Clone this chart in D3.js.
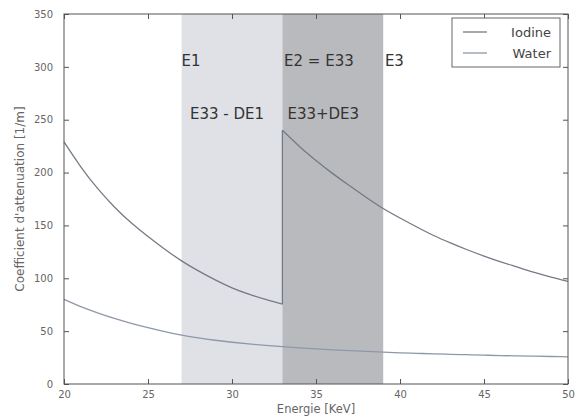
<!DOCTYPE html>
<html>
<head>
<meta charset="utf-8">
<script src="https://cdn.jsdelivr.net/npm/d3@7"></script>
<style>
  body { margin: 0; background: #fff; }
  svg { font-family: "DejaVu Sans", sans-serif; }
</style>
</head>
<body>
<svg width="578" height="416"></svg>
<script>
// energies in keV
var energyLow = [20, 21, 22, 23, 24, 25, 26, 27, 28, 29, 30, 31, 32, 33];
var energyHigh = [33, 34, 35, 36, 37, 38, 39, 40, 41, 42, 43, 44, 45, 46, 47, 48, 49, 50];
var energyAll = [20, 21, 22, 23, 24, 25, 26, 27, 28, 29, 30, 31, 32, 33, 34, 35, 36, 37, 38, 39, 40, 41, 42, 43, 44, 45, 46, 47, 48, 49, 50];

// attenuation [1/m]
var iodineLow = [229, 205.5, 185, 167.5, 152.5, 139.5, 127.5, 116.5, 107, 98.5, 91, 85, 80, 75.5];
var iodineHigh = [240, 225, 211.5, 199, 187.5, 176.5, 166, 157, 148.5, 140.5, 133.5, 127, 121, 115.5, 110.5, 105.5, 101, 97];
var water = [80, 73.2, 67.3, 62, 57.4, 53.3, 49.6, 46.3, 43.6, 41.4, 39.5, 37.9, 36.5, 35.3, 34.2, 33.2, 32.3, 31.5, 30.8, 30.1, 29.5, 29, 28.5, 28.1, 27.7, 27.3, 26.9, 26.6, 26.3, 26, 25.7];

// spectral windows
var bandEdges = [27, 33, 39];
var bandColors = ["#e0e1e6", "#b9babd"];

var xTicks = [20, 25, 30, 35, 40, 45, 50];
var yTicks = [0, 50, 100, 150, 200, 250, 300, 350];

var annotations = [
  {text: "E1", x: 27, y: 306},
  {text: "E2 = E33", x: 33.1, y: 306},
  {text: "E3", x: 39.1, y: 306},
  {text: "E33 - DE1", x: 27.5, y: 256},
  {text: "E33+DE3", x: 33.3, y: 256}
];

var legendItems = [
  {name: "Iodine", color: "#747a86"},
  {name: "Water", color: "#8d98aa"}
];

var svg = d3.select("svg"),
  margin = {top: 14, right: 10, bottom: 32, left: 64},
  width = 568 - margin.left,
  height = 384 - margin.top;

var x = d3.scaleLinear().domain([20, 50]).range([0, width]),
  y = d3.scaleLinear().domain([0, 350]).range([height, 0]);

var g = svg.append("g")
  .attr("transform", "translate(" + margin.left + "," + margin.top + ")");

// bands
g.selectAll(".band")
  .data(bandColors)
  .enter().append("rect")
  .attr("class", "band")
  .attr("x", function(d, i) { return x(bandEdges[i]); })
  .attr("width", function(d, i) { return x(bandEdges[i + 1]) - x(bandEdges[i]); })
  .attr("y", 0)
  .attr("height", height)
  .attr("fill", function(d) { return d; });

var line = d3.line()
  .x(function(d) { return x(d[0]); })
  .y(function(d) { return y(d[1]); })
  .curve(d3.curveNatural);

var iodinePts = energyLow.map(function(e, i) { return [e, iodineLow[i]]; });
var iodinePts2 = energyHigh.map(function(e, i) { return [e, iodineHigh[i]]; });

g.append("path")
  .attr("d", line(iodinePts))
  .attr("fill", "none").attr("stroke", legendItems[0].color).attr("stroke-width", 1.3);
// K-edge jump
g.append("path")
  .attr("d", d3.line()([[x(33), y(iodineLow[iodineLow.length - 1])], [x(33), y(iodineHigh[0])]]))
  .attr("fill", "none").attr("stroke", legendItems[0].color).attr("stroke-width", 1.3);
g.append("path")
  .attr("d", line(iodinePts2))
  .attr("fill", "none").attr("stroke", legendItems[0].color).attr("stroke-width", 1.3);

g.append("path")
  .attr("d", line(energyAll.map(function(e, i) { return [e, water[i]]; })))
  .attr("fill", "none").attr("stroke", legendItems[1].color).attr("stroke-width", 1.3);

// annotations
g.selectAll(".ann")
  .data(annotations)
  .enter().append("text")
  .attr("class", "ann")
  .attr("x", function(d) { return x(d.x); })
  .attr("y", function(d) { return y(d.y); })
  .attr("dy", "0.35em")
  .attr("fill", "#333")
  .style("font-size", "15px")
  .text(function(d) { return d.text; });

// axes: inside ticks on all sides
var tickColor = "#555";
g.append("g")
  .attr("transform", "translate(0," + height + ")")
  .call(d3.axisBottom(x).tickValues(xTicks).tickSize(-5).tickPadding(7))
  .call(function(a) { a.select(".domain").remove(); });
g.append("g")
  .call(d3.axisTop(x).tickValues(xTicks).tickSize(-5).tickFormat(""))
  .call(function(a) { a.select(".domain").remove(); });
g.append("g")
  .call(d3.axisLeft(y).tickValues(yTicks).tickSize(-5).tickPadding(11))
  .call(function(a) { a.select(".domain").remove(); });
g.append("g")
  .attr("transform", "translate(" + width + ",0)")
  .call(d3.axisRight(y).tickValues(yTicks).tickSize(-5).tickFormat(""))
  .call(function(a) { a.select(".domain").remove(); });

g.selectAll(".tick line").attr("stroke", tickColor);
g.selectAll(".tick text").attr("fill", "#666").style("font-size", "10px").style("font-family", "DejaVu Sans");

g.append("rect")
  .attr("width", width).attr("height", height)
  .attr("fill", "none").attr("stroke", "#555").attr("stroke-width", 1);

// axis labels
svg.append("text")
  .attr("x", margin.left + width / 2)
  .attr("y", 413)
  .attr("text-anchor", "middle")
  .attr("fill", "#666")
  .style("font-size", "11.5px")
  .text("Energie [KeV]");

svg.append("text")
  .attr("transform", "translate(24," + (margin.top + height / 2) + ") rotate(-90)")
  .attr("text-anchor", "middle")
  .attr("fill", "#666")
  .style("font-size", "12px")
  .text("Coefficient d'attenuation [1/m]");

// legend
var lg = svg.append("g").attr("transform", "translate(452,18)");
lg.append("rect").attr("width", 108).attr("height", 49)
  .attr("fill", "#fff").attr("stroke", "#666").attr("stroke-width", 1);
var li = lg.selectAll(".li").data(legendItems).enter().append("g")
  .attr("transform", function(d, i) { return "translate(0," + (14 + i * 21) + ")"; });
li.append("line").attr("x1", 11).attr("x2", 35)
  .attr("stroke", function(d) { return d.color; }).attr("stroke-width", 1.3);
li.append("text").attr("x", 99).attr("dy", "0.35em")
  .attr("text-anchor", "end").attr("fill", "#444")
  .style("font-size", "13px")
  .text(function(d) { return d.name; });
</script>
</body>
</html>
